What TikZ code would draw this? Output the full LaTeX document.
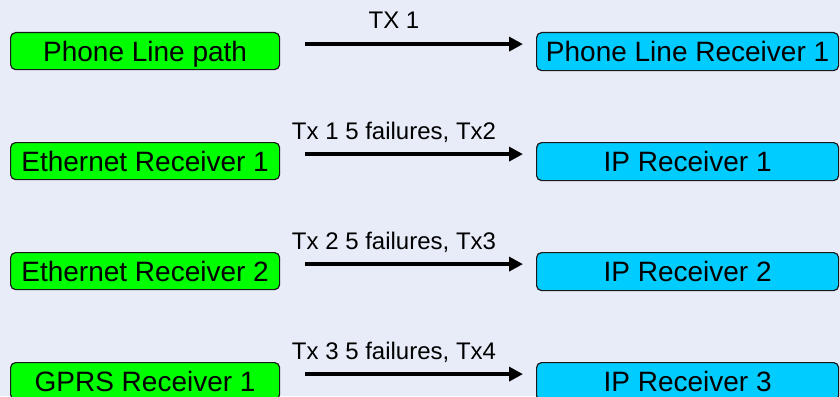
\documentclass[tikz,border=0pt]{standalone}
\usepackage{fontspec}
\setmainfont{Liberation Sans}
\usetikzlibrary{arrows.meta}
\definecolor{bgc}{RGB}{231,236,248}
\definecolor{srcgreen}{RGB}{0,255,0}
\definecolor{rcvblue}{RGB}{0,204,255}
\definecolor{edgec}{RGB}{25,25,25}
\tikzset{
  srcbox/.style={draw=edgec, line width=1.2pt, fill=srcgreen, rounded corners=5pt,
    minimum width=269pt, minimum height=37pt, inner sep=0pt,
    text height=20pt, text depth=0pt, font=\fontsize{28}{34}\selectfont},
  rcvbox/.style={draw=edgec, line width=1.2pt, fill=rcvblue, rounded corners=5pt,
    minimum width=302pt, minimum height=38pt, inner sep=0pt,
    text height=20pt, text depth=0pt, font=\fontsize{28}{34}\selectfont},
  txlabel/.style={anchor=base, inner sep=0pt, font=\fontsize{24}{28}\selectfont},
  txarrow/.style={line width=4pt, -{Triangle[length=14pt,width=14pt]}, shorten <=25pt, shorten >=13pt}
}
\begin{document}
\begin{tikzpicture}[x=1pt,y=-1pt]
\fill[bgc] (0,0) rectangle (840,396);
\useasboundingbox (0,0) rectangle (840,396);
% row 1
\node[srcbox, anchor=north west] (g1) at (10,32) {Phone Line path};
\node[rcvbox, anchor=north west] (b1) at (536,32) {Phone Line Receiver 1};
\coordinate (s1) at ([yshift=7pt]g1.east);
\draw[txarrow] (s1) -- (s1 -| b1.west);
\node[txlabel] (l1) at (394,29) {TX 1};
% row 2
\node[srcbox, anchor=north west] (g2) at (10,142) {Ethernet Receiver 1};
\node[rcvbox, anchor=north west] (b2) at (536,142) {IP Receiver 1};
\coordinate (s2) at ([yshift=7pt]g2.east);
\draw[txarrow] (s2) -- (s2 -| b2.west);
\node[txlabel] (l2) at (394,139) {Tx 1 5 failures, Tx2};
% row 3
\node[srcbox, anchor=north west] (g3) at (10,252) {Ethernet Receiver 2};
\node[rcvbox, anchor=north west] (b3) at (536,252) {IP Receiver 2};
\coordinate (s3) at ([yshift=7pt]g3.east);
\draw[txarrow] (s3) -- (s3 -| b3.west);
\node[txlabel] (l3) at (394,249) {Tx 2 5 failures, Tx3};
% row 4
\node[srcbox, anchor=north west] (g4) at (10,362) {GPRS Receiver 1};
\node[rcvbox, anchor=north west] (b4) at (536,362) {IP Receiver 3};
\coordinate (s4) at ([yshift=7pt]g4.east);
\draw[txarrow] (s4) -- (s4 -| b4.west);
\node[txlabel] (l4) at (394,359) {Tx 3 5 failures, Tx4};
\end{tikzpicture}
\end{document}
